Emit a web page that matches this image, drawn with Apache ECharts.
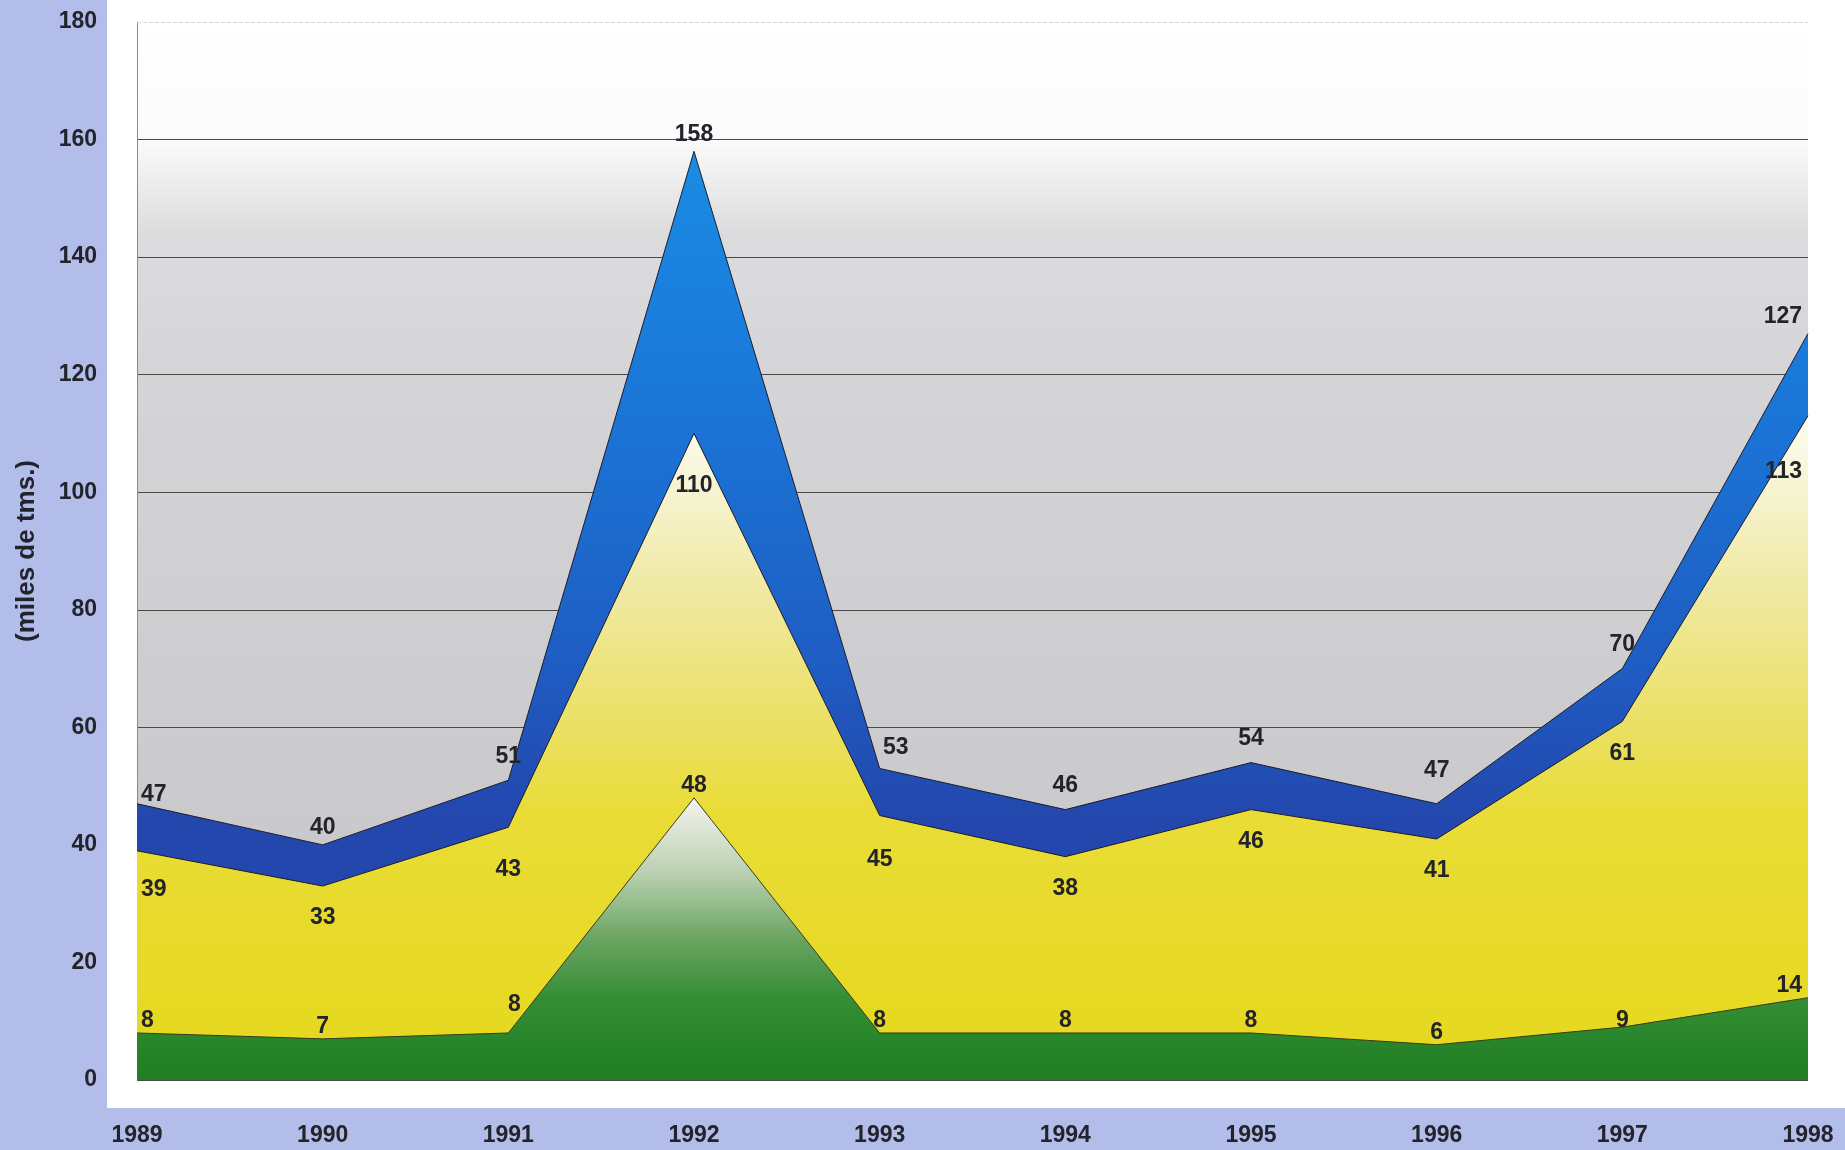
<!DOCTYPE html>
<html>
<head>
<meta charset="utf-8">
<title>miles de tms.</title>
<script src="https://cdn.jsdelivr.net/npm/echarts@6/dist/echarts.min.js"></script>
<style>
    html, body { margin: 0; padding: 0; background: #b2bde9; }
    #chart { width: 1845px; height: 1150px; }
</style>
</head>
<body>
<div id="chart"></div>
<script>
/*==数据==*/
var years = ['1989', '1990', '1991', '1992', '1993', '1994', '1995', '1996', '1997', '1998'];
// 总计 (蓝色上沿)
var totalValues = [47, 40, 51, 158, 53, 46, 54, 47, 70, 127];
// 中间层 (黄色上沿)
var middleValues = [39, 33, 43, 110, 45, 38, 46, 41, 61, 113];
// 底层 (绿色)
var bottomValues = [8, 7, 8, 48, 8, 8, 8, 6, 9, 14];
var yTicks = [0, 20, 40, 60, 80, 100, 120, 140, 160, 180];

var font = "'Liberation Sans', Arial, sans-serif";
var textColor = '#23232b';

function grad(stops) {
    return {
        type: 'linear', x: 0, y: 0, x2: 0, y2: 1,
        colorStops: stops.map(function (s) { return { offset: s[0], color: s[1] }; })
    };
}

// 首尾两个点的标签往里靠，extra 是个别标签的微调
function withEdgeLabels(values, extra) {
    return values.map(function (v, i) {
        var lab = {};
        var dx = 0, dy = 0;
        if (i === 0) { lab.align = 'left'; dx = 4; }
        if (i === values.length - 1) { lab.align = 'right'; dx = -6; }
        if (extra && extra[i]) { dx += extra[i][0]; dy += extra[i][1]; }
        lab.offset = [dx, dy];
        return { value: v, label: lab };
    });
}

var labelBase = {
    show: true,
    fontFamily: font,
    fontWeight: 'bold',
    fontSize: 23,
    color: textColor
};

// 线图的标签挂在点上，点做成看不见
var hiddenSymbol = {
    symbol: 'circle',
    symbolSize: 1,
    showSymbol: true,
    showAllSymbol: true
};

var option = {
    backgroundColor: '#b2bde9',
    animation: false,
    graphic: [{
        type: 'rect',
        z: -10,
        shape: { x: 107, y: 0, width: 1738, height: 1108 },
        style: { fill: '#ffffff' },
        silent: true
    }],
    grid: {
        left: 137,
        right: 37,
        top: 22,
        bottom: 70,
        outerBoundsMode: 'none',
        show: true,
        borderWidth: 0,
        backgroundColor: grad([
            [0, '#ffffff'], [0.11, '#fbfbfb'], [0.2, '#dcdcde'],
            [0.35, '#d4d4d6'], [1, '#c4c4c8']
        ])
    },
    xAxis: {
        type: 'category',
        data: years,
        boundaryGap: false,
        axisLine: { show: false },
        axisTick: { show: false },
        axisLabel: {
            margin: 44,
            fontFamily: font,
            fontWeight: 'bold',
            fontSize: 23,
            color: textColor
        },
        splitLine: { show: false }
    },
    yAxis: {
        type: 'value',
        min: yTicks[0],
        max: yTicks[yTicks.length - 1],
        interval: yTicks[1] - yTicks[0],
        name: '(miles de tms.)',
        nameLocation: 'middle',
        nameGap: 97,
        nameTextStyle: {
            fontFamily: font,
            fontWeight: 'bold',
            fontSize: 26,
            color: textColor
        },
        axisLine: { show: true, lineStyle: { color: '#8a8a8a', width: 1 } },
        axisTick: { show: false },
        axisLabel: {
            margin: 40,
            fontFamily: font,
            fontWeight: 'bold',
            fontSize: 23,
            color: textColor
        },
        splitLine: {
            show: true,
            lineStyle: {
                color: ['#4a4a4a', '#4a4a4a', '#4a4a4a', '#4a4a4a', '#4a4a4a',
                        '#4a4a4a', '#4a4a4a', '#4a4a4a', '#4a4a4a', 'transparent'],
                width: 1.2
            }
        }
    },
    series: [
        Object.assign({
            name: 'total',
            type: 'line',
            data: withEdgeLabels(totalValues, {
                0: [0, 15], 1: [0, 7], 3: [0, 7], 4: [16, 3], 7: [0, -9], 9: [0, 7]
            }),
            itemStyle: { color: 'rgba(0,0,0,0)' },
            lineStyle: { color: '#1c1c2a', width: 1 },
            areaStyle: {
                opacity: 1,
                color: grad([
                    [0, '#1a8ce4'], [0.24, '#1a79da'], [0.56, '#1f5cc2'],
                    [0.72, '#2347ad'], [1, '#2347ad']
                ])
            },
            label: Object.assign({ position: 'top', distance: 12 }, labelBase),
            markLine: {
                silent: true,
                symbol: 'none',
                label: { show: false },
                lineStyle: { color: '#d4d4d4', type: 'dashed', width: 1 },
                data: [{ yAxis: 180 }]
            },
            z: 2
        }, hiddenSymbol),
        Object.assign({
            name: 'middle',
            type: 'line',
            data: withEdgeLabels(middleValues, {
                0: [0, 7], 2: [0, 10], 3: [0, 20], 4: [0, 12], 9: [0, 24]
            }),
            itemStyle: { color: 'rgba(0,0,0,0)' },
            lineStyle: { color: '#1c1c2a', width: 1 },
            areaStyle: {
                opacity: 1,
                color: grad([
                    [0, '#fdfdf2'], [0.115, '#f6f3d0'], [0.29, '#efe79a'],
                    [0.47, '#ebe062'], [0.6, '#e9dc36'], [1, '#e6d81c']
                ])
            },
            label: Object.assign({ position: 'bottom', distance: 20 }, labelBase),
            z: 3
        }, hiddenSymbol),
        Object.assign({
            name: 'bottom',
            type: 'line',
            data: withEdgeLabels(bottomValues, {
                2: [6, -16], 8: [0, 6]
            }),
            itemStyle: { color: 'rgba(0,0,0,0)' },
            lineStyle: { color: '#3a3a1a', width: 1 },
            areaStyle: {
                opacity: 1,
                color: grad([
                    [0, '#f4f4ef'], [0.27, '#b9d0b1'], [0.5, '#6aa461'],
                    [0.71, '#348e34'], [1, '#1f7d22']
                ])
            },
            label: Object.assign({ position: 'top', distance: 0 }, labelBase),
            z: 4
        }, hiddenSymbol)
    ]
};

var myChart = echarts.init(document.getElementById('chart'));
myChart.setOption(option);
</script>
</body>
</html>
